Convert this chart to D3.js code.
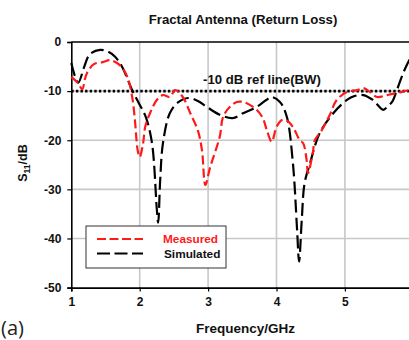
<!DOCTYPE html>
<html>
<head>
<meta charset="utf-8">
<script src="https://cdn.jsdelivr.net/npm/d3@7"></script>
<style>
  html, body { margin: 0; padding: 0; background: #fff; }
  svg { display: block; font-family: "Liberation Sans", Arial, sans-serif; }
</style>
</head>
<body>
<svg id="chart" width="409" height="340"></svg>
<script>
// Return loss S11 (dB) versus frequency (GHz)
const measuredFreq = [1.00, 1.10, 1.16, 1.20, 1.23, 1.33, 1.46, 1.57, 1.71, 1.82, 1.89, 1.93, 1.97, 2.00, 2.05, 2.08, 2.15, 2.25, 2.34, 2.44, 2.52, 2.63, 2.74, 2.85, 2.91, 2.96, 3.03, 3.17, 3.22, 3.32, 3.42, 3.51, 3.61, 3.71, 3.80, 3.86, 3.93, 4.00, 4.08, 4.15, 4.24, 4.34, 4.39, 4.44, 4.46, 4.53, 4.56, 4.66, 4.78, 4.88, 5.03, 5.18, 5.27, 5.37, 5.47, 5.62, 5.76, 5.94, 6.00];
const measuredDb   = [-7.1, -8.4, -9.6, -7.5, -6.3, -4.5, -4.1, -3.7, -4.7, -7.1, -11.2, -15.9, -22.0, -23.4, -20.6, -17.3, -14.5, -11.8, -10.8, -11.2, -9.8, -11.2, -14.5, -18.0, -22.0, -29.1, -25.5, -19.3, -15.2, -13.2, -12.2, -12.2, -12.8, -13.8, -15.5, -18.0, -20.3, -17.3, -15.9, -16.0, -17.3, -20.0, -20.6, -24.0, -26.7, -22.7, -20.0, -18.0, -14.8, -11.8, -10.2, -9.8, -9.4, -10.2, -11.2, -10.8, -10.4, -9.8, -9.8];

const simulatedFreq = [1.00, 1.10, 1.19, 1.27, 1.42, 1.54, 1.64, 1.74, 1.89, 1.99, 2.09, 2.18, 2.25, 2.27, 2.30, 2.34, 2.44, 2.56, 2.71, 2.85, 2.98, 3.17, 3.36, 3.51, 3.71, 3.85, 3.93, 4.05, 4.15, 4.24, 4.30, 4.33, 4.37, 4.41, 4.49, 4.63, 4.83, 5.03, 5.14, 5.27, 5.41, 5.56, 5.63, 5.69, 5.76, 5.85, 5.94, 6.00];
const simulatedDb   = [-4.3, -8.3, -5.0, -2.5, -1.6, -2.0, -3.0, -5.0, -9.8, -12.5, -15.3, -20.6, -34.0, -36.8, -28.0, -20.6, -14.5, -12.3, -11.4, -12.0, -13.2, -14.8, -15.5, -14.5, -13.2, -11.8, -11.2, -12.2, -15.2, -24.7, -38.0, -44.7, -36.0, -28.8, -24.7, -18.6, -14.5, -11.8, -11.0, -10.8, -11.8, -13.8, -13.0, -12.2, -9.8, -6.4, -3.7, -2.4];

const xTicks = [1, 2, 3, 4, 5];
const yTicks = [0, -10, -20, -30, -40, -50];
const refLevel = -10;

const seriesNames = ["Measured", "Simulated"];
const seriesColors = ["#ff1a1a", "#000000"];
const seriesDashes = ["9,4", "13,5"];

const svg = d3.select("#chart");
const plotLeft = 71.3, plotTop = 42, plotBottom = 287.6;
const x = d3.scaleLinear().domain([1, 6]).range([plotLeft, plotLeft + 5 * 68.4]);
const y = d3.scaleLinear().domain([0, -50]).range([plotTop, plotBottom]);

// grid
const grid = svg.append("g");
grid.selectAll("line.v").data(xTicks.filter(d => d > 1)).join("line")
  .attr("x1", d => x(d)).attr("x2", d => x(d))
  .attr("y1", plotTop).attr("y2", plotBottom)
  .attr("stroke", "#c8c8c8").attr("stroke-width", 1.6);
grid.selectAll("line.h").data(yTicks.filter(d => d < 0 && d > -50)).join("line")
  .attr("x1", plotLeft).attr("x2", 409)
  .attr("y1", d => y(d)).attr("y2", d => y(d))
  .attr("stroke", "#c8c8c8").attr("stroke-width", 1.6);

// top frame line
svg.append("line").attr("x1", plotLeft).attr("x2", 409).attr("y1", plotTop).attr("y2", plotTop)
  .attr("stroke", "#000").attr("stroke-width", 1.5);

// axes
const yAxis = svg.append("g").attr("transform", `translate(${plotLeft},0)`)
  .call(d3.axisLeft(y).tickValues(yTicks).tickSize(4).tickPadding(6).tickFormat(d => String(d)));
const xAxis = svg.append("g").attr("transform", `translate(0,${plotBottom})`)
  .call(d3.axisBottom(x).tickValues(xTicks).tickSize(4).tickPadding(6).tickFormat(d => String(d)));
[xAxis, yAxis].forEach(a => {
  a.select(".domain").attr("stroke", "#000").attr("stroke-width", 1.6);
  a.selectAll(".tick line").attr("stroke", "#000").attr("stroke-width", 1.2);
  a.selectAll(".tick text").attr("font-size", 12).attr("font-weight", "bold")
    .attr("font-family", "Liberation Sans, Arial, sans-serif").attr("fill", "#111");
});

// -10 dB reference
svg.append("line").attr("x1", plotLeft).attr("x2", 409)
  .attr("y1", y(refLevel)).attr("y2", y(refLevel))
  .attr("stroke", "#000").attr("stroke-width", 2.6).attr("stroke-dasharray", "2.4,2.2");
svg.append("text").attr("x", 203).attr("y", 84)
  .attr("font-size", 13.2).attr("font-weight", "bold").attr("fill", "#111")
  .text("-10 dB ref line(BW)");

// curves
const line = d3.line().x(d => x(d[0])).y(d => y(d[1])).curve(d3.curveCatmullRom.alpha(0.5));
const series = [
  d3.zip(measuredFreq, measuredDb),
  d3.zip(simulatedFreq, simulatedDb)
];
svg.append("g").selectAll("path").data([1, 0]).join("path")
  .attr("d", i => line(series[i]))
  .attr("fill", "none")
  .attr("stroke", i => seriesColors[i])
  .attr("stroke-width", 2.2)
  .attr("stroke-dasharray", i => seriesDashes[i]);

// title and axis labels
svg.append("text").attr("x", 243).attr("y", 24).attr("text-anchor", "middle")
  .attr("font-size", 13.2).attr("font-weight", "bold").attr("fill", "#111")
  .text("Fractal Antenna (Return Loss)");
svg.append("text").attr("x", 245.5).attr("y", 333).attr("text-anchor", "middle")
  .attr("font-size", 13.5).attr("font-weight", "bold").attr("fill", "#111")
  .text("Frequency/GHz");
const yl = svg.append("text").attr("transform", "translate(27,163) rotate(-90)")
  .attr("text-anchor", "middle").attr("font-size", 12.5).attr("font-weight", "bold").attr("fill", "#111");
yl.append("tspan").text("S");
yl.append("tspan").attr("font-size", 8.5).attr("dy", 3).text("11");
yl.append("tspan").attr("dy", -3).text("/dB");
svg.append("text").attr("x", 1).attr("y", 335)
  .attr("font-family", "Open Sans, Noto Sans, sans-serif").attr("font-size", 20).attr("fill", "#222")
  .text("(a)");

// legend
const lg = svg.append("g");
lg.append("rect").attr("x", 86).attr("y", 226).attr("width", 140).attr("height", 42)
  .attr("fill", "#fff").attr("stroke", "#333").attr("stroke-width", 1);
seriesNames.forEach((name, i) => {
  const ly = 239 + i * 14.5;
  lg.append("line").attr("x1", 97).attr("x2", 143).attr("y1", ly).attr("y2", ly)
    .attr("stroke", seriesColors[i]).attr("stroke-width", 2.2)
    .attr("stroke-dasharray", i === 0 ? "9,3.5" : "13,4.5");
  lg.append("text").attr("x", i === 0 ? 163 : 164).attr("y", ly + 4)
    .attr("font-size", 11.8).attr("font-weight", "bold")
    .attr("fill", i === 0 ? seriesColors[0] : "#111").text(name);
});
</script>
</body>
</html>
